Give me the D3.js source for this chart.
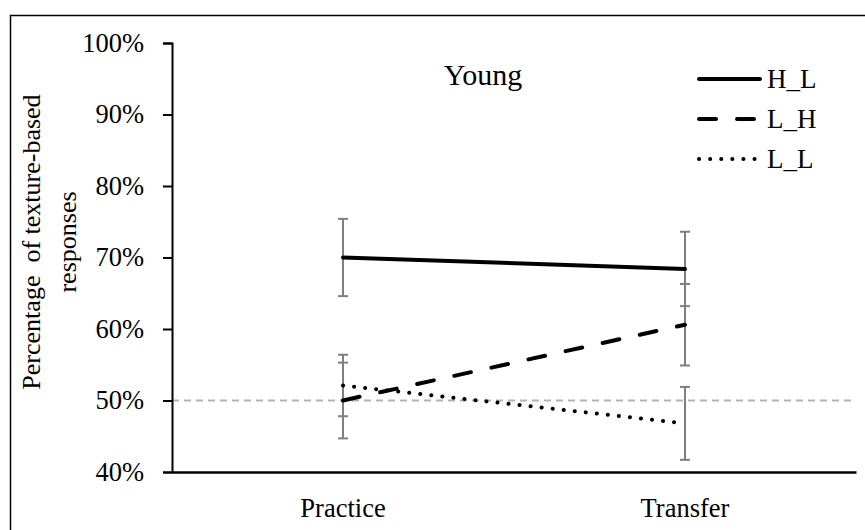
<!DOCTYPE html>
<html>
<head>
<meta charset="utf-8">
<script src="https://cdn.jsdelivr.net/npm/d3@7"></script>
<style>
  body { margin: 0; background: #fff; }
  svg, svg text { font-family: "Liberation Serif", "Times New Roman", serif !important; }
  svg text { fill: #000; white-space: pre; }
</style>
</head>
<body>
<div id="chart"></div>
<script>
var categories = ["Practice", "Transfer"];
var seriesNames = ["H_L", "L_H", "L_L"];
var hlValues = [70.0, 68.4];
var lhValues = [50.0, 60.6];
var llValues = [52.1, 46.8];
var hlErrors = [5.4, 5.2];
var lhErrors = [5.3, 5.7];
var llErrors = [4.3, 5.1];
var yTicks = [40, 50, 60, 70, 80, 90, 100];
var chanceLevel = 50;
var title = "Young";

var serif = "'Liberation Serif', 'Times New Roman', serif";
var wide = 865;
var high = 530;

var svg = d3.select("#chart")
  .append("svg")
  .attr("width", wide)
  .attr("height", high)
  .attr("font-family", serif);

// outer frame
svg.append("rect")
  .attr("x", 10.5)
  .attr("y", 15.5)
  .attr("width", 870)
  .attr("height", 540)
  .attr("fill", "none")
  .attr("stroke", "#000")
  .attr("stroke-width", 1.5);

var xScale = d3.scaleBand()
  .domain(categories)
  .range([172, 856]);

var yScale = d3.scaleLinear()
  .domain([40, 100])
  .range([472, 43]);

function xMid(c) {
  return xScale(c) + xScale.bandwidth() / 2;
}

// 50% reference line
svg.append("line")
  .attr("x1", 172)
  .attr("x2", 856)
  .attr("y1", yScale(chanceLevel))
  .attr("y2", yScale(chanceLevel))
  .attr("stroke", "#b3b3b3")
  .attr("stroke-width", 2)
  .attr("stroke-dasharray", "7,5");

// y axis
var yAxis = d3.axisLeft(yScale)
  .tickValues(yTicks)
  .tickSize(9)
  .tickPadding(19)
  .tickFormat(function(d) { return d + "%"; });

var yG = svg.append("g")
  .attr("transform", "translate(172,0)")
  .call(yAxis)
  .attr("font-family", serif);
yG.select(".domain").attr("stroke", "#000").attr("stroke-width", 2);
yG.selectAll(".tick line").attr("stroke", "#000").attr("stroke-width", 2);
yG.selectAll(".tick text").attr("font-size", 26.5).attr("font-family", serif);

// x axis
var xAxis = d3.axisBottom(xScale).tickSize(0).tickPadding(26);
var xG = svg.append("g")
  .attr("transform", "translate(0,472)")
  .call(xAxis)
  .attr("font-family", serif);
xG.select(".domain").attr("stroke", "#000").attr("stroke-width", 2.5);
xG.selectAll(".tick text").attr("font-size", 26.5).attr("font-family", serif);

// y axis label
var yLabel = svg.append("text")
  .attr("transform", "translate(0,242) rotate(-90)")
  .attr("text-anchor", "middle")
  .attr("font-family", serif)
  .attr("font-size", 26);
yLabel.append("tspan").attr("x", 0).attr("y", 40).text("Percentage  of texture-based");
yLabel.append("tspan").attr("x", 0).attr("y", 76).text("responses");

// title
svg.append("text")
  .attr("x", 483)
  .attr("y", 85)
  .attr("text-anchor", "middle")
  .attr("font-family", serif)
  .attr("font-size", 30)
  .text(title);

var series = [
  { name: seriesNames[0], values: hlValues, errors: hlErrors, dash: null },
  { name: seriesNames[1], values: lhValues, errors: lhErrors, dash: "17,21" },
  { name: seriesNames[2], values: llValues, errors: llErrors, dash: "0.1,11" }
];

var line = d3.line()
  .x(function(d) { return xMid(d.cat); })
  .y(function(d) { return yScale(d.v); });

// error bars
series.forEach(function(s) {
  categories.forEach(function(c, i) {
    var x = xMid(c);
    var top = yScale(s.values[i] + s.errors[i]);
    var bot = yScale(s.values[i] - s.errors[i]);
    var g = svg.append("g").attr("stroke", "#7f7f7f").attr("stroke-width", 2);
    g.append("line").attr("x1", x).attr("x2", x).attr("y1", top).attr("y2", bot);
    g.append("line").attr("x1", x - 5).attr("x2", x + 5).attr("y1", top).attr("y2", top);
    g.append("line").attr("x1", x - 5).attr("x2", x + 5).attr("y1", bot).attr("y2", bot);
  });
});

// series lines
series.forEach(function(s) {
  var pts = categories.map(function(c, i) { return { cat: c, v: s.values[i] }; });
  svg.append("path")
    .datum(pts)
    .attr("d", line)
    .attr("fill", "none")
    .attr("stroke", "#000")
    .attr("stroke-width", 4)
    .attr("stroke-linecap", "round")
    .attr("stroke-dasharray", s.dash);
});

// legend
var legendY = [79, 119, 159];
series.forEach(function(s, i) {
  svg.append("line")
    .attr("x1", 699)
    .attr("x2", 760)
    .attr("y1", legendY[i])
    .attr("y2", legendY[i])
    .attr("stroke", "#000")
    .attr("stroke-width", 4)
    .attr("stroke-linecap", "round")
    .attr("stroke-dasharray", s.dash);
  svg.append("text")
    .attr("x", 767)
    .attr("y", legendY[i] + 9)
    .attr("font-family", serif)
    .attr("font-size", 27)
    .text(s.name);
});
</script>
</body>
</html>
